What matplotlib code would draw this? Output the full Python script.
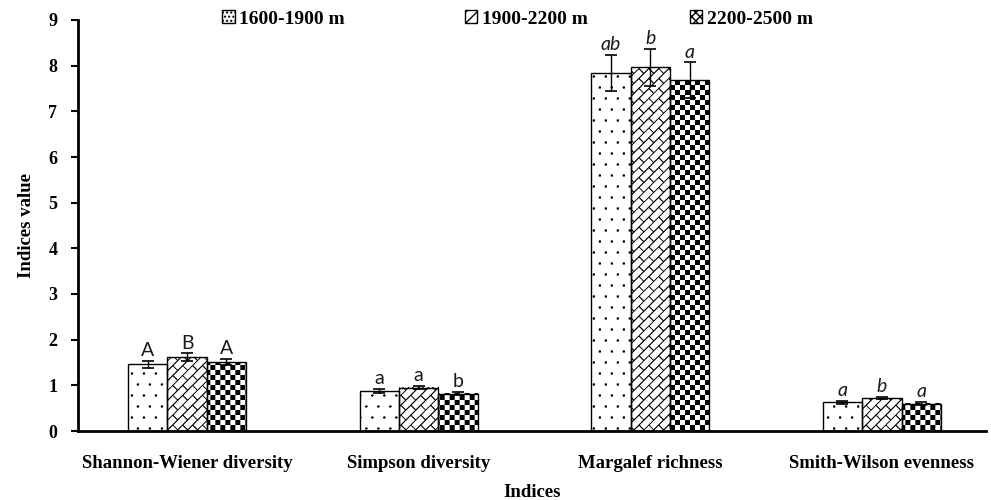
import numpy as np
import matplotlib
matplotlib.use("Agg")
import matplotlib.pyplot as plt
from matplotlib.patches import Patch

categories = ["Shannon-Wiener diversity", "Simpson diversity", "Margalef richness", "Smith-Wilson evenness"]
series_names = ["1600-1900 m", "1900-2200 m", "2200-2500 m"]
vals_1600 = [1.46, 0.88, 7.84, 0.63]
vals_1900 = [1.62, 0.95, 7.96, 0.72]
vals_2200 = [1.51, 0.82, 7.68, 0.60]
err_1600 = [0.08, 0.04, 0.40, 0.03]
err_1900 = [0.08, 0.04, 0.40, 0.03]
err_2200 = [0.06, 0.03, 0.39, 0.03]
letters_1600 = ["A", "a", "ab", "a"]
letters_1900 = ["B", "a", "b", "b"]
letters_2200 = ["A", "b", "a", "a"]
letter_italic = [False, False, True, True]

values = [vals_1600, vals_1900, vals_2200]
errors = [err_1600, err_1900, err_2200]
letters = [letters_1600, letters_1900, letters_2200]
patterns = ["dots", "brick", "checker"]

serif = "Liberation Serif"
fig = plt.figure(figsize=(9.91, 5.0), dpi=100)
ax = fig.add_axes([0.079, 0.138, 0.916, 0.822])
ax.set_xlim(-0.47, 3.45)
ax.set_ylim(0, 9)


def pattern_image(kind, x0, y0, wpx, hpx, ss=3):
    xs = x0 + (np.arange(wpx * ss) + 0.5) / ss
    ys = y0 + (np.arange(hpx * ss) + 0.5) / ss
    X, Y = np.meshgrid(xs, ys)
    if kind == "dots":
        row = np.floor(Y / 11.0)
        xoff = (row % 2) * 6.0
        dx = ((X - xoff) % 12.0) - 6.0
        dy = (Y % 11.0) - 5.5
        ink = ((dx ** 2 + dy ** 2) < 1.6).astype(float)
    elif kind == "brick":
        u = (X + Y) / np.sqrt(2)
        v = (Y - X) / np.sqrt(2)
        P, L, lw = 7.0, 14.0, 1.1
        r = np.floor(v / P)
        ink = ((v % P) < lw) | (((u + r * L / 2) % L) < lw)
        ink = ink.astype(float)
    else:
        ink = (((np.floor(X / 5.0) + np.floor(Y / 5.0)) % 2) == 0).astype(float)
    img = 1.0 - ink
    return img.reshape(hpx, ss, wpx, ss).mean(axis=(1, 3))


x = np.arange(len(categories))
w = 0.17
offsets = [-w, 0, w]

for si in range(3):
    xs = x + offsets[si]
    bars = ax.bar(xs, values[si], width=w, color="white", edgecolor="none", zorder=2)
    for b in bars:
        bx, bw, bh = b.get_x(), b.get_width(), b.get_height()
        (px0, py0) = ax.transData.transform((bx, 0))
        (px1, py1) = ax.transData.transform((bx + bw, bh))
        wpx = int(np.ceil(px1 - px0))
        hpx = int(np.ceil(py1 - py0))
        img = pattern_image(patterns[si], px0, py0, wpx, hpx)
        ax.imshow(img, cmap="gray", vmin=0, vmax=1, extent=[bx, bx + bw, 0, bh],
                  origin="lower", interpolation="nearest", aspect="auto", zorder=2.5)
    ax.bar(xs, values[si], width=w, fill=False, edgecolor="black", linewidth=1.0, zorder=3)
    ax.errorbar(xs, values[si], yerr=errors[si], fmt="none", ecolor="black",
                elinewidth=1.0, capsize=4, capthick=1.2, zorder=4)
    for ci in range(len(categories)):
        ax.text(xs[ci], values[si][ci] + errors[si][ci] + 0.04, letters[si][ci],
                ha="center", va="bottom", fontsize=14, family="Lato",
                style="italic" if letter_italic[ci] else "normal",
                color="#1a1a1a", zorder=5)

ax.set_xlim(-0.47, 3.45)
ax.set_ylim(0, 9)
ax.set_yticks(range(0, 10))
ax.set_xticks(x)
ax.set_xticklabels(categories, fontfamily=serif, fontweight="bold", fontsize=13.5)
ax.tick_params(axis="x", length=0, pad=17)
ax.tick_params(axis="y", length=5, width=1.5, direction="out", pad=10)
for lab in ax.get_yticklabels():
    lab.set_fontfamily(serif)
    lab.set_fontweight("bold")
    lab.set_fontsize(13)
for s in ["top", "right"]:
    ax.spines[s].set_visible(False)
for s in ["left", "bottom"]:
    ax.spines[s].set_linewidth(2)
ax.set_ylabel("Indices value", fontfamily=serif, fontweight="bold", fontsize=13.5, labelpad=10)
fig.text(0.537, 0.006, "Indices", ha="center", va="baseline", fontfamily=serif,
         fontweight="bold", fontsize=13.5)

handles = [Patch(facecolor="white", edgecolor="black", hatch="...."),
           Patch(facecolor="white", edgecolor="black", hatch="///"),
           Patch(facecolor="white", edgecolor="black", hatch="xxxx")]
anchors = [0.236, 0.481, 0.708]
for h, name, ax_x in zip(handles, series_names, anchors):
    fig.legend([h], [name], loc="center left", bbox_to_anchor=(ax_x - 0.012, 0.962),
               frameon=False, prop={"family": serif, "weight": "bold", "size": 14},
               handlelength=0.65, handleheight=0.65, handletextpad=0.25,
               borderpad=0, borderaxespad=0)

fig.savefig("out.png", dpi=100)
